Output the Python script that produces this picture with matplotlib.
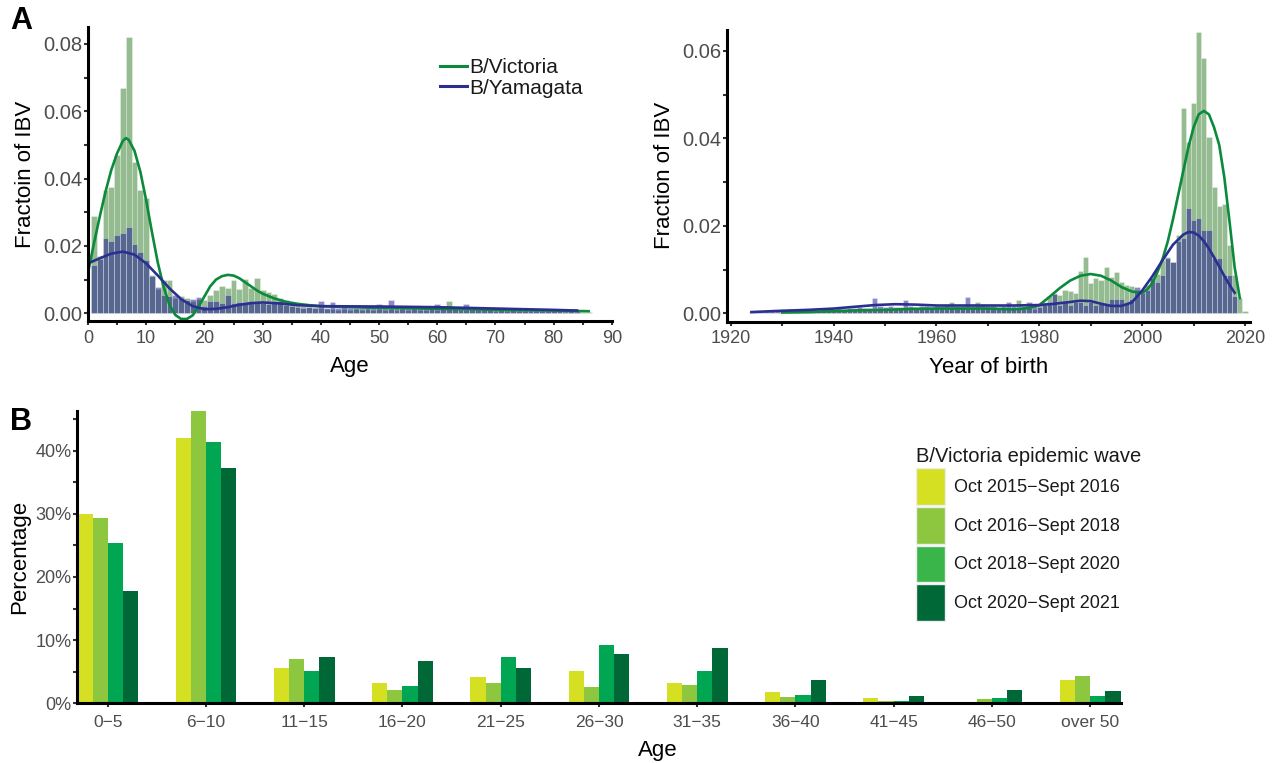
import matplotlib
matplotlib.use('Agg')
import matplotlib.pyplot as plt
import numpy as np
from matplotlib.lines import Line2D
from matplotlib.patches import Patch
from matplotlib.ticker import FixedLocator

plt.rcParams['font.family'] = ['Liberation Sans', 'DejaVu Sans']

# ---------------------------------------------------------------- panel A data
# histogram bins of width 1 (age in years), fraction of IBV cases
AGE_VIC = np.arange(1, 87)
FRAC_VIC_AGE = [
    0.0290, 0.0170, 0.0365, 0.0375, 0.0470, 0.0670, 0.0820, 0.0450, 0.0365, 0.0343,
    0.0113, 0.0072, 0.0099, 0.0099, 0.0045, 0.0050, 0.0045, 0.0035, 0.0042, 0.0040,
    0.0055, 0.0070, 0.0082, 0.0076, 0.0099, 0.0072, 0.0102, 0.0076, 0.0104, 0.0068,
    0.0062, 0.0058, 0.0045, 0.0038, 0.0030, 0.0028, 0.0022, 0.0020, 0.0018, 0.0016,
    0.0012, 0.0014, 0.0010, 0.0012, 0.0011, 0.0013, 0.0010, 0.0012, 0.0011, 0.0013,
    0.0010, 0.0012, 0.0011, 0.0014, 0.0010, 0.0012, 0.0011, 0.0010, 0.0012, 0.0011,
    0.0013, 0.0037, 0.0012, 0.0010, 0.0011, 0.0009, 0.0010, 0.0009, 0.0010, 0.0008,
    0.0009, 0.0008, 0.0009, 0.0007, 0.0008, 0.0007, 0.0007, 0.0006, 0.0007, 0.0006,
    0.0006, 0.0005, 0.0006, 0.0005, 0.0004, 0.0004,
]
AGE_YAM = np.arange(1, 85)
FRAC_YAM_AGE = [
    0.0143, 0.0160, 0.0223, 0.0215, 0.0233, 0.0237, 0.0257, 0.0207, 0.0183, 0.0158,
    0.0110, 0.0077, 0.0055, 0.0050, 0.0054, 0.0045, 0.0040, 0.0042, 0.0047, 0.0022,
    0.0035, 0.0035, 0.0030, 0.0054, 0.0030, 0.0034, 0.0032, 0.0030, 0.0033, 0.0030,
    0.0028, 0.0031, 0.0035, 0.0025, 0.0022, 0.0018, 0.0015, 0.0018, 0.0016, 0.0037,
    0.0017, 0.0034, 0.0016, 0.0018, 0.0015, 0.0017, 0.0016, 0.0018, 0.0015, 0.0027,
    0.0016, 0.0040, 0.0017, 0.0018, 0.0015, 0.0017, 0.0016, 0.0018, 0.0015, 0.0028,
    0.0017, 0.0016, 0.0018, 0.0015, 0.0028, 0.0019, 0.0016, 0.0015, 0.0014, 0.0013,
    0.0014, 0.0012, 0.0013, 0.0012, 0.0011, 0.0012, 0.0010, 0.0011, 0.0010, 0.0009,
    0.0010, 0.0008, 0.0009, 0.0008,
]

# smoothed density curves
CURVE_AGE_VIC_X = [0, 1, 2, 3, 4, 5, 6, 6.5, 7, 8, 9, 10, 11, 12, 13, 14, 15, 16, 17,
                   18, 19, 20, 21, 22, 23, 24, 25, 26, 27, 28, 29, 30, 32, 34, 36, 38,
                   40, 45, 50, 55, 60, 65, 70, 75, 80, 86]
CURVE_AGE_VIC_Y = [0.0120, 0.0205, 0.0285, 0.0360, 0.0425, 0.0475, 0.0512, 0.0520,
                   0.0515, 0.0482, 0.0420, 0.0335, 0.0240, 0.0150, 0.0078, 0.0025,
                   -0.0005, -0.0017, -0.0017, -0.0006, 0.0020, 0.0050, 0.0080, 0.0100,
                   0.0110, 0.0114, 0.0112, 0.0104, 0.0092, 0.0080, 0.0068, 0.0058,
                   0.0044, 0.0034, 0.0028, 0.0024, 0.0021, 0.0018, 0.0016, 0.0015,
                   0.0013, 0.0012, 0.0010, 0.0009, 0.0008, 0.0006]
CURVE_AGE_YAM_X = [0, 2, 4, 6, 8, 10, 12, 14, 16, 18, 20, 22, 24, 26, 28, 30, 33, 36,
                   40, 50, 60, 70, 80, 84]
CURVE_AGE_YAM_Y = [0.0148, 0.0163, 0.0177, 0.0183, 0.0174, 0.0148, 0.0112, 0.0074,
                   0.0042, 0.0021, 0.0012, 0.0013, 0.0018, 0.0025, 0.0030, 0.0032,
                   0.0029, 0.0024, 0.0021, 0.0020, 0.0018, 0.0014, 0.0010, 0.0008]

# histogram by year of birth
YEAR_VIC = np.arange(1930, 2021)
FRAC_VIC_YEAR = [
    0.0004, 0.0005, 0.0004, 0.0005, 0.0006, 0.0005, 0.0006, 0.0005, 0.0007, 0.0006,
    0.0007, 0.0006, 0.0008, 0.0007, 0.0008, 0.0009, 0.0008, 0.0009, 0.0008, 0.0010,
    0.0009, 0.0010, 0.0011, 0.0009, 0.0011, 0.0010, 0.0012, 0.0011, 0.0010, 0.0012,
    0.0011, 0.0012, 0.0010, 0.0025, 0.0011, 0.0012, 0.0010, 0.0012, 0.0025, 0.0011,
    0.0010, 0.0012, 0.0009, 0.0011, 0.0010, 0.0012, 0.0030, 0.0010, 0.0012, 0.0011,
    0.0020, 0.0027, 0.0040, 0.0047, 0.0042, 0.0053, 0.0052, 0.0047, 0.0098, 0.0130,
    0.0070, 0.0080, 0.0076, 0.0107, 0.0084, 0.0095, 0.0072, 0.0065, 0.0063, 0.0053,
    0.0046, 0.0065, 0.0080, 0.0091, 0.0122, 0.0128, 0.0118, 0.0179, 0.0469, 0.0393,
    0.0480, 0.0644, 0.0583, 0.0404, 0.0288, 0.0245, 0.0250, 0.0156, 0.0088, 0.0036,
    0.0005,
]
YEAR_YAM = np.arange(1924, 2019)
FRAC_YAM_YEAR = [
    0.0003, 0.0005, 0.0004, 0.0006, 0.0005, 0.0007,
    0.0006, 0.0007, 0.0008, 0.0006, 0.0008, 0.0007, 0.0009, 0.0008, 0.0010, 0.0009,
    0.0010, 0.0012, 0.0011, 0.0013, 0.0012, 0.0014, 0.0013, 0.0012, 0.0036, 0.0016,
    0.0014, 0.0016, 0.0015, 0.0014, 0.0030, 0.0016, 0.0015, 0.0017, 0.0016, 0.0015,
    0.0017, 0.0016, 0.0018, 0.0015, 0.0017, 0.0016, 0.0037, 0.0017, 0.0016, 0.0018,
    0.0016, 0.0017, 0.0015, 0.0016, 0.0025, 0.0016, 0.0015, 0.0017, 0.0025, 0.0016,
    0.0015, 0.0018, 0.0025, 0.0045, 0.0020, 0.0028, 0.0020, 0.0027, 0.0027, 0.0019,
    0.0025, 0.0020, 0.0022, 0.0018, 0.0034, 0.0034, 0.0034, 0.0023, 0.0034, 0.0060,
    0.0053, 0.0053, 0.0080, 0.0072, 0.0088, 0.0126, 0.0118, 0.0165, 0.0172, 0.0240,
    0.0213, 0.0217, 0.0190, 0.0190, 0.0126, 0.0126, 0.0088, 0.0088, 0.0040,
]

CURVE_YEAR_VIC_X = [1930, 1935, 1940, 1945, 1950, 1955, 1960, 1965, 1970, 1975, 1978,
                    1980, 1982, 1984, 1986, 1988, 1990, 1992, 1994, 1996, 1998, 2000,
                    2001, 2002, 2003, 2004, 2005, 2006, 2007, 2008, 2009, 2010, 2011,
                    2012, 2013, 2014, 2015, 2016, 2017, 2018, 2019]
CURVE_YEAR_VIC_Y = [0.0002, 0.0003, 0.0005, 0.0007, 0.0008, 0.0010, 0.0011, 0.0011,
                    0.0011, 0.0009, 0.0012, 0.0019, 0.0038, 0.0058, 0.0075, 0.0086,
                    0.0090, 0.0086, 0.0075, 0.0060, 0.0050, 0.0047, 0.0055, 0.0070,
                    0.0095, 0.0125, 0.0165, 0.0215, 0.0270, 0.0325, 0.0380, 0.0425,
                    0.0455, 0.0463, 0.0455, 0.0425, 0.0385, 0.0310, 0.0210, 0.0105,
                    0.0035]
CURVE_YEAR_YAM_X = [1924, 1930, 1935, 1940, 1945, 1948, 1952, 1956, 1960, 1965, 1970,
                    1975, 1980, 1983, 1986, 1988, 1990, 1992, 1994, 1996, 1998, 2000,
                    2002, 2004, 2006, 2008, 2009, 2010, 2011, 2012, 2013, 2014, 2015,
                    2016, 2017, 2018]
CURVE_YEAR_YAM_Y = [0.0003, 0.0006, 0.0008, 0.0011, 0.0016, 0.0019, 0.0021, 0.0020,
                    0.0018, 0.0018, 0.0018, 0.0018, 0.0019, 0.0022, 0.0026, 0.0029,
                    0.0028, 0.0022, 0.0017, 0.0017, 0.0025, 0.0052, 0.0085, 0.0122,
                    0.0157, 0.0180, 0.0186, 0.0185, 0.0178, 0.0165, 0.0148, 0.0128,
                    0.0107, 0.0085, 0.0065, 0.0047]

# ---------------------------------------------------------------- panel B data
AGE_GROUPS = ['0\u22125', '6\u221210', '11\u221215', '16\u221220', '21\u221225',
              '26\u221230', '31\u221235', '36\u221240', '41\u221245', '46\u221250',
              'over 50']
WAVES = ['Oct 2015\u2212Sept 2016', 'Oct 2016\u2212Sept 2018',
         'Oct 2018\u2212Sept 2020', 'Oct 2020\u2212Sept 2021']
PCT_2015 = [29.9, 42.0, 5.6, 3.2, 4.2, 5.1, 3.2, 1.8, 0.8, 0.2, 3.7]
PCT_2016 = [29.4, 46.3, 7.0, 2.1, 3.2, 2.6, 2.9, 1.0, 0.4, 0.7, 4.3]
PCT_2018 = [25.3, 41.4, 5.1, 2.7, 7.3, 9.2, 5.1, 1.3, 0.4, 0.8, 1.2]
PCT_2020 = [17.7, 37.3, 7.3, 6.7, 5.6, 7.8, 8.7, 3.7, 1.2, 2.1, 1.9]

VIC_BAR = '#2a7a22'
YAM_BAR = '#1a1590'
VIC_LINE = '#0b8a3c'
YAM_LINE = '#2b2f8f'
WAVE_COLORS = ['#d4e021', '#8dc63f', '#00a651', '#006837']
WAVE_LEGEND = ['#d4e021', '#8dc63f', '#39b54a', '#006837']
TICK_GREY = '#4d4d4d'


def style_axes(ax, xsize, ysize, xpad=3):
    for side in ('top', 'right'):
        ax.spines[side].set_visible(False)
    for side in ('left', 'bottom'):
        ax.spines[side].set_linewidth(2.2)
        ax.spines[side].set_color('black')
    ax.tick_params(which='both', direction='out', length=3.2, width=1.5,
                   color='#333333', labelcolor=TICK_GREY)
    ax.tick_params(axis='y', which='both', pad=1, labelsize=ysize)
    ax.tick_params(axis='x', which='both', pad=xpad, labelsize=xsize)


fig = plt.figure(figsize=(12.73, 7.63), dpi=100)

# ---- A left: by age
ax1 = fig.add_axes([0.0691, 0.5793, 0.4116, 0.3853])
ax1.bar(AGE_VIC, FRAC_VIC_AGE, width=1, color=VIC_BAR, alpha=0.5,
        edgecolor='white', linewidth=0.4)
ax1.bar(AGE_YAM, FRAC_YAM_AGE, width=1, color=YAM_BAR, alpha=0.5,
        edgecolor='white', linewidth=0.4)
ax1.plot(CURVE_AGE_VIC_X, CURVE_AGE_VIC_Y, color=VIC_LINE, lw=1.9)
ax1.plot(CURVE_AGE_YAM_X, CURVE_AGE_YAM_Y, color=YAM_LINE, lw=1.9)
ax1.set_xlim(0, 90)
ax1.set_ylim(-0.0023, 0.085)
ax1.xaxis.set_major_locator(FixedLocator(np.arange(0, 91, 10)))
ax1.xaxis.set_minor_locator(FixedLocator(np.arange(5, 90, 10)))
ax1.yaxis.set_major_locator(FixedLocator([0, 0.02, 0.04, 0.06, 0.08]))
ax1.yaxis.set_minor_locator(FixedLocator([0.01, 0.03, 0.05, 0.07]))
ax1.set_yticklabels(['0.00', '0.02', '0.04', '0.06', '0.08'])
style_axes(ax1, 13, 14.5)
ax1.set_xlabel('Age', fontsize=16, labelpad=7)
ax1.set_ylabel('Fractoin of IBV', fontsize=16, labelpad=5)
ax1.legend(handles=[Line2D([0], [0], color=VIC_LINE, lw=2.2),
                    Line2D([0], [0], color=YAM_LINE, lw=2.2)],
           labels=['B/Victoria', 'B/Yamagata'], loc='upper left',
           bbox_to_anchor=(0.672, 0.895), frameon=False, borderpad=0,
           borderaxespad=0, handlelength=1.3, handletextpad=0.1,
           labelspacing=0.08, fontsize=15, labelcolor='#1a1a1a')

# ---- A right: by year of birth
ax2 = fig.add_axes([0.5709, 0.5784, 0.4111, 0.3823])
ax2.bar(YEAR_VIC, FRAC_VIC_YEAR, width=1, color=VIC_BAR, alpha=0.5,
        edgecolor='white', linewidth=0.4)
ax2.bar(YEAR_YAM, FRAC_YAM_YEAR, width=1, color=YAM_BAR, alpha=0.5,
        edgecolor='white', linewidth=0.4)
ax2.plot(CURVE_YEAR_VIC_X, CURVE_YEAR_VIC_Y, color=VIC_LINE, lw=1.9)
ax2.plot(CURVE_YEAR_YAM_X, CURVE_YEAR_YAM_Y, color=YAM_LINE, lw=1.9)
ax2.set_xlim(1919.2, 2021)
ax2.set_ylim(-0.0019, 0.0648)
ax2.xaxis.set_major_locator(FixedLocator(np.arange(1920, 2021, 20)))
ax2.xaxis.set_minor_locator(FixedLocator(np.arange(1930, 2020, 20)))
ax2.yaxis.set_major_locator(FixedLocator([0, 0.02, 0.04, 0.06]))
ax2.yaxis.set_minor_locator(FixedLocator([0.01, 0.03, 0.05]))
ax2.set_yticklabels(['0.00', '0.02', '0.04', '0.06'])
style_axes(ax2, 13, 14.5)
ax2.set_xlabel('Year of birth', fontsize=16, labelpad=7)
ax2.set_ylabel('Fraction of IBV', fontsize=16, labelpad=5)

# ---- B: age distribution per epidemic wave
ax3 = fig.add_axes([0.0607, 0.0782, 0.8196, 0.3835])
x = np.arange(len(AGE_GROUPS))
w = 0.1545
for i, (vals, col) in enumerate(zip([PCT_2015, PCT_2016, PCT_2018, PCT_2020],
                                    WAVE_COLORS)):
    ax3.bar(x + (i - 1.5) * w, vals, width=w, color=col, linewidth=0)
ax3.set_xlim(-0.31, len(AGE_GROUPS) - 1 + 0.31)
ax3.set_ylim(0, 46.3)
ax3.set_xticks(x)
ax3.set_xticklabels(AGE_GROUPS)
ax3.yaxis.set_major_locator(FixedLocator([0, 10, 20, 30, 40]))
ax3.yaxis.set_minor_locator(FixedLocator([5, 15, 25, 35, 45]))
ax3.set_yticklabels(['0%', '10%', '20%', '30%', '40%'])
style_axes(ax3, 12.5, 13, xpad=5)
ax3.set_ylabel('Percentage', fontsize=16, labelpad=4)
ax3.set_xlabel('Age', fontsize=16)
ax3.xaxis.set_label_coords(0.556, -0.125)

leg = ax3.legend(handles=[Patch(facecolor=c, edgecolor='#eeeeee', lw=1)
                          for c in WAVE_LEGEND],
                 labels=WAVES, title='B/Victoria epidemic wave',
                 loc='upper left', bbox_to_anchor=(0.804, 0.875), frameon=False,
                 borderpad=0, borderaxespad=0, handlelength=1.6,
                 handleheight=2.75, labelspacing=0.11, handletextpad=0.5,
                 fontsize=13, title_fontsize=14.5, alignment='left')
leg.get_title().set_color('#1a1a1a')
for t in leg.get_texts():
    t.set_color('#1a1a1a')

fig.text(0.008, 0.992, 'A', fontsize=22, fontweight='bold', va='top', ha='left')
fig.text(0.008, 0.467, 'B', fontsize=22, fontweight='bold', va='top', ha='left')

fig.savefig('out.png', dpi=100)
